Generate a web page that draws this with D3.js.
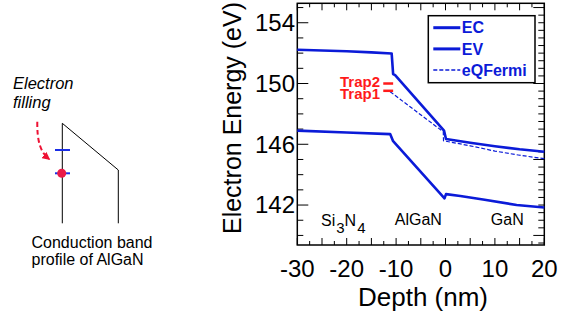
<!DOCTYPE html>
<html>
<head>
<meta charset="utf-8">
<script src="https://cdn.jsdelivr.net/npm/d3@7"></script>
<style>
    body { margin: 0; background: #fff; }
    svg { display: block; font-family: "Liberation Sans", Arial, Helvetica, sans-serif; }
</style>
</head>
<body>
<div id="chart"></div>
<script>
// Band profile data: [depth (nm), energy (eV)]
const ecPoints = [
    [-30, 152.22], [-20, 152.12], [-15, 152.05], [-10.9, 151.98], [-10.6, 150.62], [-10.2, 150.55],
    [-0.3, 146.9], [0.1, 146.35], [5, 146.1], [10, 145.87], [15, 145.67], [20, 145.51]
];
const evPoints = [
    [-30, 146.9], [-20, 146.78], [-11.2, 146.67], [-10.6, 146.2], [-0.2, 142.44], [0.1, 142.72],
    [3, 142.6], [7.6, 142.37], [14.4, 142.0], [20, 141.84]
];
const fermiPoints = [
    [-11.2, 149.46], [-0.45, 146.82], [-0.4, 146.23], [5, 145.9], [10, 145.55], [15, 145.28], [20, 145.05]
];

// Trap levels
const trapNames = ["Trap1", "Trap2"];
const trapLevels = [149.52, 150.0];
const trapDepth = [-12.6, -10.6];

// Region labels
const regionNames = ["Si", "AlGaN", "GaN"];
const regionDepths = [-25.2, -5.5, 12.5];

// Axis ticks
const xTickLabels = [-30, -20, -10, 0, 10, 20];
const yTickLabels = [142, 146, 150, 154];
const legendNames = ["EC", "EV", "eQFermi"];

class BandChart {
    constructor(parentElement) {
        this.parentElement = parentElement;
        this.initVis();
    }

    initVis() {
        let vis = this;

        vis.width = 570;
        vis.height = 320;
        vis.blue = "#0b1bd8";

        vis.svg = d3.select("#" + vis.parentElement).append("svg")
            .attr("width", vis.width)
            .attr("height", vis.height);

        // plot frame
        vis.x = d3.scaleLinear().domain([-30, 20]).range([297.3, 544.3]);
        vis.y = d3.scaleLinear().domain([139.37, 155.28]).range([245, 3.3]);

        vis.drawSchematic();
        vis.drawAxes();
        vis.drawLines();
        vis.drawLegend();
    }

    drawSchematic() {
        let vis = this;
        let g = vis.svg.append("g");

        g.append("text")
            .attr("x", 13).attr("y", 89)
            .style("font-size", "16.5px").style("font-style", "italic")
            .text("Electron");
        g.append("text")
            .attr("x", 13).attr("y", 108)
            .style("font-size", "16.5px").style("font-style", "italic")
            .text("filling");

        // dashed arrow
        vis.svg.append("defs").append("marker")
            .attr("id", "arrowRed")
            .attr("viewBox", "0 0 10 10")
            .attr("refX", 8).attr("refY", 5)
            .attr("markerWidth", 4).attr("markerHeight", 4)
            .attr("orient", "auto")
            .append("path")
            .attr("d", "M0,0 L10,5 L0,10 z")
            .attr("fill", "#ee1133");

        g.append("path")
            .attr("d", "M37.3,121.7 C37,140 40,152 49,159")
            .attr("fill", "none")
            .attr("stroke", "#ee1133")
            .attr("stroke-width", 2)
            .attr("stroke-dasharray", "5,3")
            .attr("marker-end", "url(#arrowRed)");

        // band profile sketch
        g.append("path")
            .attr("d", "M62.3,223.3 L62.3,123.3 L118.3,170 L118.3,223.3")
            .attr("fill", "none")
            .attr("stroke", "#000")
            .attr("stroke-width", 1);

        [150, 173.3].forEach(yy => {
            g.append("line")
                .attr("x1", 55).attr("x2", 70)
                .attr("y1", yy).attr("y2", yy)
                .attr("stroke", "#1a2ee6")
                .attr("stroke-width", 2);
        });

        g.append("circle")
            .attr("cx", 61.7).attr("cy", 173.3).attr("r", 4.5)
            .attr("fill", "#ea1a48");

        g.append("text")
            .attr("x", 31.5).attr("y", 248)
            .style("font-size", "16px")
            .text("Conduction band");
        g.append("text")
            .attr("x", 31.5).attr("y", 264.5)
            .style("font-size", "16px")
            .text("profile of AlGaN");
    }

    drawAxes() {
        let vis = this;
        let [x0, x1] = vis.x.range();
        let [y0, y1] = vis.y.range();

        // bottom / top ticks
        let xTicks = d3.range(-30, 20.01, 2.5);
        let tickG = vis.svg.append("g").attr("stroke", "#000").attr("stroke-width", 1);
        xTicks.forEach(t => {
            let len = (t % 5 === 0) ? 7 : 4;
            tickG.append("line")
                .attr("x1", vis.x(t)).attr("x2", vis.x(t))
                .attr("y1", y0).attr("y2", y0 - len);
            tickG.append("line")
                .attr("x1", vis.x(t)).attr("x2", vis.x(t))
                .attr("y1", y1).attr("y2", y1 + len);
        });

        // left ticks every 1 eV, right every 0.5 eV
        d3.range(140, 155.01, 1).forEach(t => {
            let len = yTickLabels.includes(t) ? 11 : 6;
            tickG.append("line")
                .attr("x1", x0).attr("x2", x0 + len)
                .attr("y1", vis.y(t)).attr("y2", vis.y(t));
        });
        d3.range(139.5, 155.01, 0.5).forEach(t => {
            let len = (t % 5 === 0) ? 11 : 6;
            tickG.append("line")
                .attr("x1", x1).attr("x2", x1 - len)
                .attr("y1", vis.y(t)).attr("y2", vis.y(t));
        });

        // frame
        vis.svg.append("rect")
            .attr("x", x0).attr("y", y1)
            .attr("width", x1 - x0).attr("height", y0 - y1)
            .attr("fill", "none")
            .attr("stroke", "#000")
            .attr("stroke-width", 1.5);

        // tick labels
        vis.svg.append("g").selectAll("text")
            .data(xTickLabels)
            .join("text")
            .attr("x", d => vis.x(d))
            .attr("y", 277)
            .attr("text-anchor", "middle")
            .style("font-size", "24px")
            .text(d => d);

        vis.svg.append("g").selectAll("text")
            .data(yTickLabels)
            .join("text")
            .attr("x", 295)
            .attr("y", d => vis.y(d))
            .attr("dy", "0.35em")
            .attr("text-anchor", "end")
            .style("font-size", "24px")
            .text(d => d);

        // axis titles
        vis.svg.append("text")
            .attr("x", 423).attr("y", 306)
            .attr("text-anchor", "middle")
            .style("font-size", "26px")
            .text("Depth (nm)");

        vis.svg.append("text")
            .attr("transform", "translate(241,118) rotate(-90)")
            .attr("text-anchor", "middle")
            .style("font-size", "25px")
            .text("Electron Energy (eV)");

        // region labels
        let regionG = vis.svg.append("g").style("font-size", "16px");
        let si = regionG.append("text")
            .attr("x", vis.x(regionDepths[0]))
            .attr("y", 226);
        si.append("tspan").text(regionNames[0]);
        si.append("tspan").attr("dx", 1).attr("dy", 7).style("font-size", "15px").text("3");
        si.append("tspan").attr("dy", -7).text("N");
        si.append("tspan").attr("dx", 1).attr("dy", 7).style("font-size", "15px").text("4");

        regionG.selectAll("text.region")
            .data(regionNames.slice(1))
            .join("text")
            .attr("class", "region")
            .attr("x", (d, i) => vis.x(regionDepths[i + 1]))
            .attr("y", 225)
            .attr("text-anchor", "middle")
            .text(d => d);
    }

    drawLines() {
        let vis = this;
        let line = d3.line()
            .x(d => vis.x(d[0]))
            .y(d => vis.y(d[1]));

        vis.svg.append("path")
            .datum(fermiPoints)
            .attr("d", line)
            .attr("fill", "none")
            .attr("stroke", vis.blue)
            .attr("stroke-width", 1.2)
            .attr("stroke-dasharray", "4,2");

        [ecPoints, evPoints].forEach(pts => {
            vis.svg.append("path")
                .datum(pts)
                .attr("d", line)
                .attr("fill", "none")
                .attr("stroke", vis.blue)
                .attr("stroke-width", 2.6)
                .attr("stroke-linejoin", "round");
        });

        // traps
        vis.svg.append("g").selectAll("line")
            .data(trapLevels)
            .join("line")
            .attr("x1", vis.x(trapDepth[0]))
            .attr("x2", vis.x(trapDepth[1]))
            .attr("y1", d => vis.y(d))
            .attr("y2", d => vis.y(d))
            .attr("stroke", "#ff1a1a")
            .attr("stroke-width", 2.5);

        vis.svg.append("g").selectAll("text")
            .data(trapNames)
            .join("text")
            .attr("x", 380)
            .attr("y", (d, i) => vis.y(trapLevels[i]) + (i === 0 ? 8.5 : 3.5))
            .attr("text-anchor", "end")
            .attr("fill", "#ff1a1a")
            .style("font-size", "15px")
            .style("font-weight", "bold")
            .text(d => d);
    }

    drawLegend() {
        let vis = this;
        let g = vis.svg.append("g").attr("transform", "translate(428.3,15.7)");

        g.append("rect")
            .attr("width", 106.7).attr("height", 67)
            .attr("fill", "#fff")
            .attr("stroke", "#000")
            .attr("stroke-width", 1.5);

        let rows = g.selectAll("g.row")
            .data(legendNames)
            .join("g")
            .attr("class", "row")
            .attr("transform", (d, i) => `translate(0,${12 + i * 21.2})`);

        rows.append("line")
            .attr("x1", 5).attr("x2", 32)
            .attr("stroke", vis.blue)
            .attr("stroke-width", (d, i) => i === 2 ? 1.5 : 3)
            .attr("stroke-dasharray", (d, i) => i === 2 ? "4,2" : null);

        rows.append("text")
            .attr("x", 33.5)
            .attr("dy", "0.36em")
            .attr("fill", vis.blue)
            .style("font-size", "16px")
            .style("font-weight", "bold")
            .text(d => d);
    }
}

new BandChart("chart");
</script>
</body>
</html>
